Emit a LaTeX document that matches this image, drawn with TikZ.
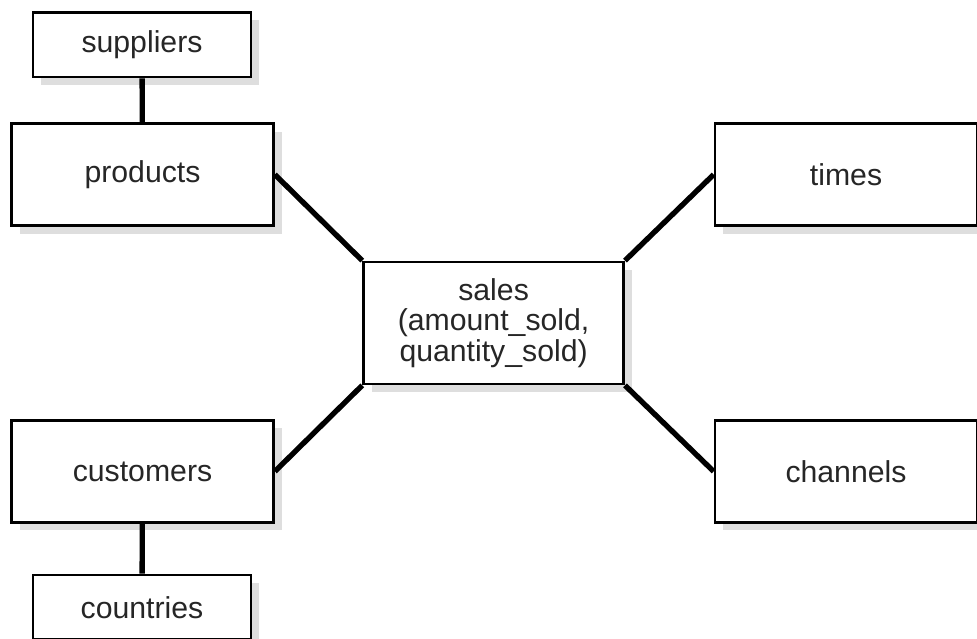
\documentclass[tikz,border=0pt]{standalone}
\usepackage{fontspec}
\setmainfont{Liberation Sans}
\usepackage{tikz}
\usetikzlibrary{positioning,shadows}

\begin{document}
\begin{tikzpicture}[
        box/.style={rectangle, draw, line width=2pt, fill=white, text centered, align=center,
            text=black!85, font=\fontsize{21.5}{21.5}\selectfont,
            drop shadow={shadow xshift=0.2cm, shadow yshift=-0.2cm, fill=black!13, opacity=1}},
        smallbox/.style={box, minimum width=5.45cm, minimum height=1.62cm},
        dimbox/.style={box, minimum width=6.55cm, minimum height=2.55cm},
        factbox/.style={box, minimum width=6.5cm, minimum height=3.05cm},
        link/.style={line width=3.8pt}
    ]
        % frame
        \useasboundingbox (0,0) rectangle (24.425,15.975);

        % Fact table
        \node[factbox] (sales) at (12.34,7.9) {sales\\(amount\_sold,\\quantity\_sold)};

        % Dimension tables
        \node[dimbox] (products) at (3.5625,11.61) {products};
        \node[dimbox] (times) at (21.15,11.61) {times};
        \node[dimbox] (customers) at (3.5625,4.19) {customers};
        \node[dimbox] (channels) at (21.15,4.19) {channels};

        % Outer tables
        \node[smallbox] (suppliers) at (3.55,14.86) {suppliers};
        \node[smallbox] (countries) at (3.55,0.79) {countries};

        % Connections
        \draw[link] (suppliers) -- (products);
        \draw[link] (customers) -- (countries);
        \draw[link] (products.east) -- (sales.north west);
        \draw[link] (times.west) -- (sales.north east);
        \draw[link] (customers.east) -- (sales.south west);
        \draw[link] (channels.west) -- (sales.south east);

    \end{tikzpicture}
\end{document}
